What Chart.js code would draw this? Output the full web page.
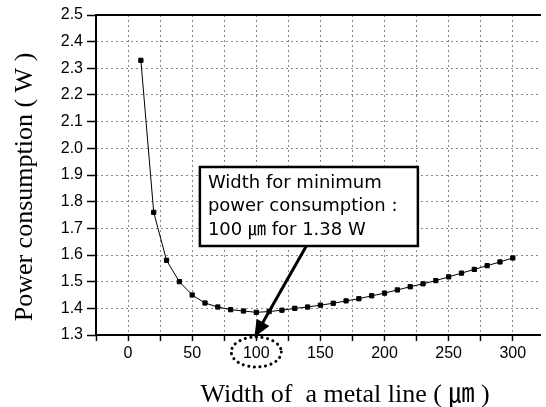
<!DOCTYPE html>
<html>
<head>
<meta charset="utf-8">
<script src="https://cdn.jsdelivr.net/npm/chart.js@4/dist/chart.umd.min.js"></script>
<style>
    html, body { margin: 0; padding: 0; background: #fff; }
    #wrap { width: 546px; height: 407px; position: relative; }
</style>
</head>
<body>
<div id="wrap"><canvas id="powerChart"></canvas></div>
<script>
// line widths in um
const widths = [10, 20, 30, 40, 50, 60, 70, 80, 90, 100,
    110, 120, 130, 140, 150, 160, 170, 180, 190, 200,
    210, 220, 230, 240, 250, 260, 270, 280, 290, 300];
// power consumption in W
const power = [2.33, 1.76, 1.58, 1.50, 1.45, 1.42, 1.405, 1.395, 1.39, 1.385,
    1.388, 1.393, 1.40, 1.405, 1.412, 1.419, 1.428, 1.436, 1.447, 1.457,
    1.469, 1.481, 1.492, 1.504, 1.518, 1.532, 1.546, 1.56, 1.574, 1.589];
const xLabels = [0, 50, 100, 150, 200, 250, 300];
const yTitle = 'Power consumption ( W )';
const xTitle = 'Width of  a metal line ( \u339B )';
const noteLines = ['Width for minimum', 'power consumption :', '100 \u339B for 1.38 W'];
const minWidth = 100;

const serif = '"Liberation Serif", "Times New Roman", "Noto Sans CJK KR", serif';
const sans = '"Liberation Sans", Arial, sans-serif';

const extras = {
    id: 'extras',
    afterDraw(chart) {
        const { ctx, chartArea, scales } = chart;
        const xs = scales.x, ys = scales.y;
        ctx.save();

        // frame: left axis, bottom axis, top line
        ctx.strokeStyle = '#000';
        ctx.lineWidth = 2;
        ctx.beginPath();
        ctx.moveTo(chartArea.right, chartArea.top);
        ctx.lineTo(chartArea.left, chartArea.top);
        ctx.lineTo(chartArea.left, chartArea.bottom);
        ctx.lineTo(chartArea.right, chartArea.bottom);
        ctx.stroke();

        // axis titles
        ctx.fillStyle = '#000';
        ctx.font = '26px ' + serif;
        ctx.textAlign = 'center';
        ctx.textBaseline = 'middle';
        ctx.fillText(xTitle, 345, 395);
        ctx.save();
        ctx.translate(25, 187);
        ctx.rotate(-Math.PI / 2);
        ctx.fillText(yTitle, 0, 0);
        ctx.restore();

        // note box
        const bx = xs.getPixelForValue(56);
        const by = ys.getPixelForValue(1.93);
        const bw = 218, bh = 79;
        ctx.fillStyle = '#fff';
        ctx.fillRect(bx, by, bw, bh);
        ctx.lineWidth = 2.5;
        ctx.strokeRect(bx, by, bw, bh);
        ctx.fillStyle = '#000';
        ctx.font = '18px "DejaVu Sans", "Noto Sans CJK KR", sans-serif';
        ctx.textAlign = 'left';
        ctx.textBaseline = 'middle';
        noteLines.forEach((t, i) => ctx.fillText(t, bx + 8, by + 16 + i * 23.5));

        // arrow to the minimum
        const x0 = xs.getPixelForValue(139), y0 = by + bh;
        const x1 = xs.getPixelForValue(minWidth), y1 = ys.getPixelForValue(1.3) - 1;
        const ang = Math.atan2(y1 - y0, x1 - x0);
        ctx.lineWidth = 3;
        ctx.beginPath();
        ctx.moveTo(x0, y0);
        ctx.lineTo(x1, y1);
        ctx.stroke();
        ctx.beginPath();
        ctx.moveTo(x1 - 13 * Math.cos(ang - 0.4), y1 - 13 * Math.sin(ang - 0.4));
        ctx.lineTo(x1, y1);
        ctx.lineTo(x1 - 13 * Math.cos(ang + 0.4), y1 - 13 * Math.sin(ang + 0.4));
        ctx.closePath();
        ctx.fill();
        ctx.stroke();

        // dotted ellipse round the 100 label
        ctx.lineWidth = 3;
        ctx.lineCap = 'round';
        ctx.setLineDash([0.1, 5.5]);
        ctx.beginPath();
        ctx.ellipse(x1, 352, 25, 15, 0, 0, Math.PI * 2);
        ctx.stroke();
        ctx.restore();
    }
};

new Chart(document.getElementById('powerChart'), {
    type: 'line',
    data: {
        labels: widths,
        datasets: [{
            data: widths.map((w, i) => ({ x: w, y: power[i] })),
            borderColor: '#000',
            backgroundColor: '#000',
            borderWidth: 1,
            pointStyle: 'rect',
            pointRadius: 3,
            tension: 0
        }]
    },
    options: {
        responsive: true,
        maintainAspectRatio: false,
        animation: false,
        events: [],
        layout: { padding: { top: 15, right: 0, left: 0, bottom: 0 } },
        plugins: { legend: { display: false }, tooltip: { enabled: false } },
        scales: {
            x: {
                type: 'linear',
                min: -25,
                max: 322,
                afterFit: s => { s.height = 72; },
                ticks: {
                    stepSize: 25,
                    includeBounds: false,
                    autoSkip: false,
                    maxRotation: 0,
                    color: '#000',
                    padding: 3,
                    font: { family: sans, size: 16 },
                    callback: v => xLabels.includes(v) ? v : ''
                },
                grid: {
                    color: '#888',
                    tickColor: '#000',
                    tickLength: 6,
                    tickWidth: 1.5
                },
                border: { display: false, dash: [2, 3] }
            },
            y: {
                min: 1.3,
                max: 2.5,
                afterFit: s => { s.width = 96; },
                ticks: {
                    stepSize: 0.1,
                    color: '#000',
                    padding: 4,
                    font: { family: sans, size: 16 },
                    callback: v => v.toFixed(1)
                },
                grid: {
                    color: '#888',
                    tickColor: '#000',
                    tickLength: 9,
                    tickWidth: 1.5
                },
                border: { display: false, dash: [2, 3] }
            }
        }
    },
    plugins: [extras]
});
</script>
</body>
</html>
